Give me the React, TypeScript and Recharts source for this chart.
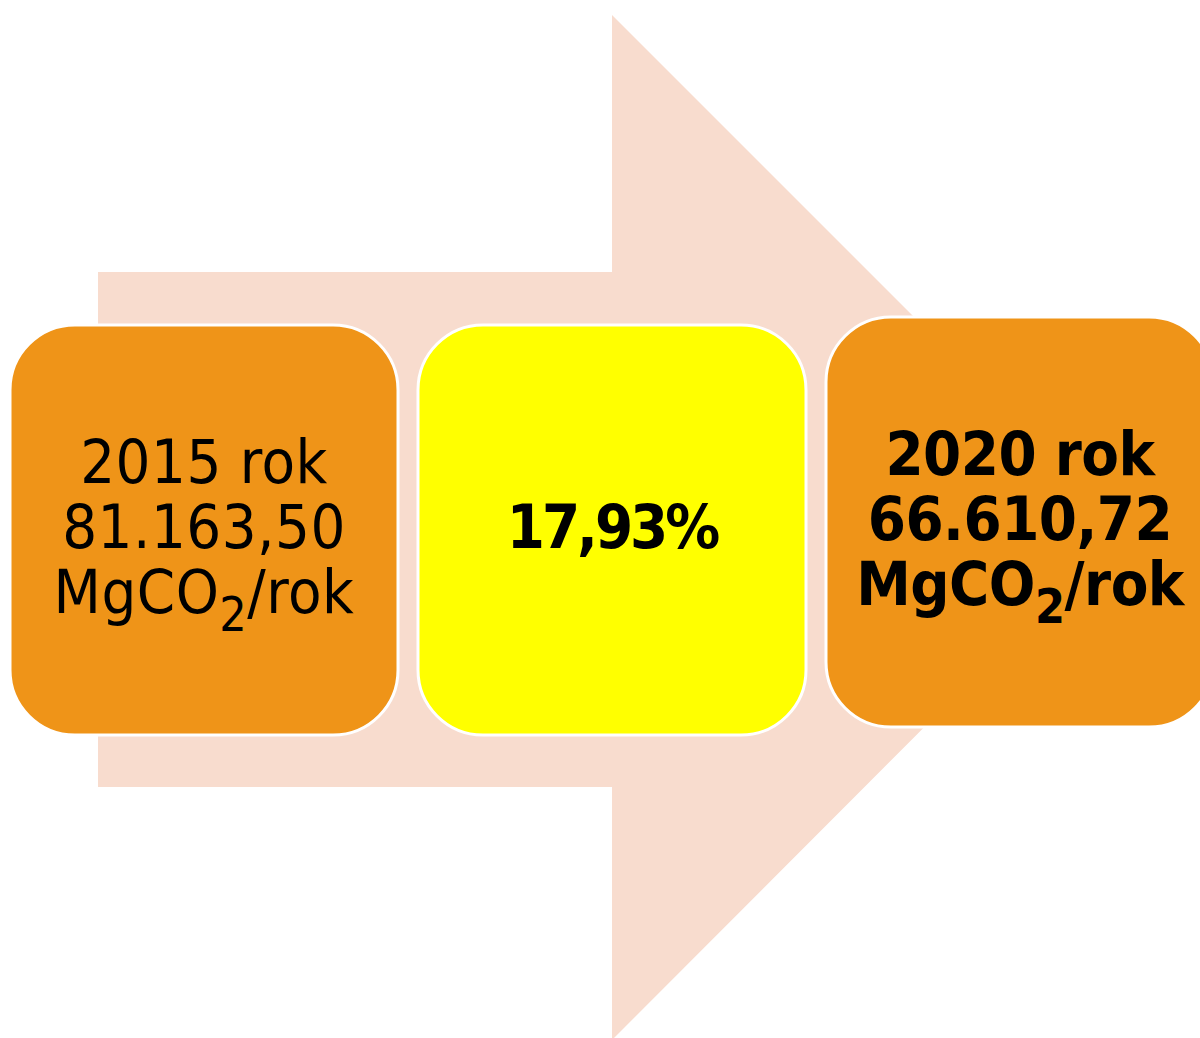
import React from "react";
import { BarChart, Bar, XAxis, YAxis, Customized, Rectangle } from "recharts";

// values
const years = ["2015", "2020"];
const emissions = [81163.5, 66610.72];
const reductionPct = 17.93;
const unitParts = ["MgCO", "2", "/rok"];

const W = 1224;
const H = 1038;
const BOX_LOW = 303;
const BOX_HIGH = 713;
const ORANGE = "#EF9418";
const YELLOW = "#FFFF00";
const ARROW = "#F8DCCE";
const FONT = "'DejaVu Sans Condensed', 'DejaVu Sans', sans-serif";

const fmt = (v: number) => {
  const [i, d] = v.toFixed(2).split(".");
  return i.replace(/\B(?=(\d{3})+(?!\d))/g, ".") + "," + d;
};

const rows = [
  { key: "start", lines: [`${years[0]} rok`, fmt(emissions[0])], unit: true },
  { key: "change", lines: [`${reductionPct.toFixed(2).replace(".", ",")}%`], unit: false },
  { key: "end", lines: [`${years[1]} rok`, fmt(emissions[1])], unit: true },
];

const fills = [ORANGE, YELLOW, ORANGE];
const bolds = [false, true, true];

function Arrow() {
  const pts = [
    [98, 272],
    [612, 272],
    [612, 15],
    [1124, 527],
    [612, 1040],
    [612, 787],
    [98, 787],
  ];
  return <polygon points={pts.map((p) => p.join(",")).join(" ")} fill={ARROW} />;
}

function BoxShape(props: any) {
  const { x, width, index, payload } = props;
  let { y, height } = props;
  if (index === 2) y -= 8;
  const cx = x + width / 2;
  const cy = y + height / 2;
  const bold = bolds[index];
  const all = payload.unit ? [...payload.lines, "__unit"] : payload.lines;
  const n = all.length;
  const style = {
    fontFamily: FONT,
    fontSize: 61,
    fontWeight: bold ? 700 : 400,
    fill: "#000",
    letterSpacing: index === 1 ? -3 : bold ? -0.5 : 0.5,
  };
  return (
    <g>
      <Rectangle
        x={x}
        y={y}
        width={width}
        height={height}
        radius={65}
        fill={fills[index]}
        stroke="#fff"
        strokeWidth={3}
      />
      {all.map((line: string, i: number) => {
        const by = cy + 18 + (i - (n - 1) / 2) * 65;
        if (line === "__unit") {
          return (
            <text key={i} x={cx} y={by} textAnchor="middle" style={style}>
              <tspan>{unitParts[0]}</tspan>
              <tspan fontSize={48} dy={18}>{unitParts[1]}</tspan>
              <tspan dy={-18}>{unitParts[2]}</tspan>
            </text>
          );
        }
        return (
          <text key={i} x={cx} y={by} textAnchor="middle" style={style}>
            {line}
          </text>
        );
      })}
    </g>
  );
}

export default function App() {
  return (
    <div
      style={{
        position: "absolute",
        left: 0,
        top: 0,
        width: 1200,
        height: H,
        overflow: "hidden",
        background: "#fff",
      }}
    >
      <BarChart
        width={W}
        height={H}
        data={rows}
        margin={{ top: 0, right: 0, bottom: 0, left: 0 }}
        barCategoryGap={10}
      >
        <Customized component={Arrow} />
        <XAxis dataKey="key" type="category" hide />
        <YAxis type="number" domain={[0, H]} hide allowDataOverflow />
        <Bar
          dataKey={() => [BOX_LOW, BOX_HIGH]}
          shape={BoxShape}
          isAnimationActive={false}
        />
      </BarChart>
    </div>
  );
}
